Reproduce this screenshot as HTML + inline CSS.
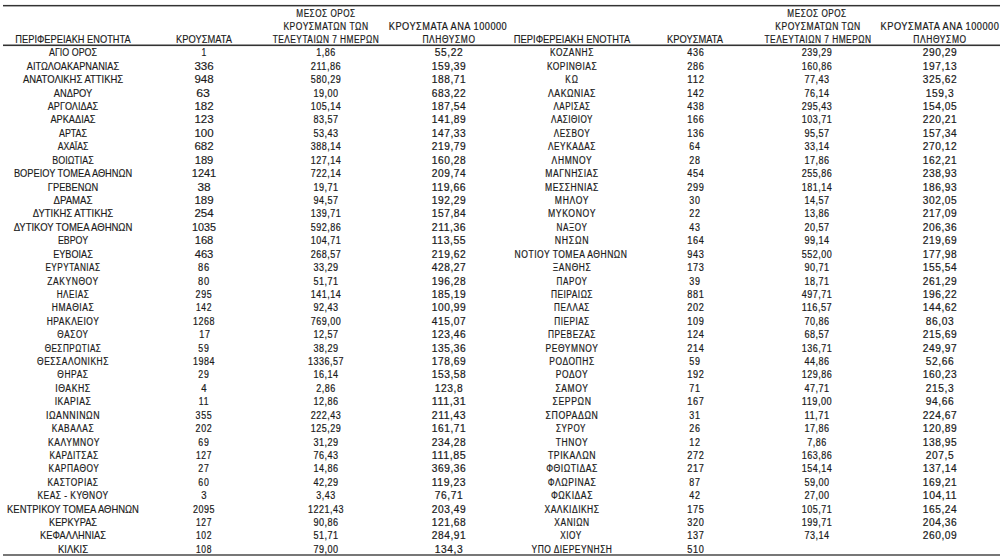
<!DOCTYPE html>
<html><head><meta charset="utf-8"><style>
html,body{margin:0;padding:0;background:#fff;}
body{width:1000px;height:559px;overflow:hidden;position:relative;font-family:"Liberation Sans",sans-serif;color:#1a1a1a;}
#w{position:absolute;left:0;top:0;width:1000px;height:559px;}
.c{position:absolute;width:200px;text-align:center;font-size:10.4px;line-height:12px;white-space:nowrap;transform-origin:100px 50%;}
.ln{position:absolute;left:3px;right:0;}
</style></head><body><div id="w">
<div class="ln" style="top:4px;height:1px;background:#eee"></div>
<div class="ln" style="top:5px;height:1px;background:#333"></div>
<div class="ln" style="top:6px;height:1px;background:#aaa"></div>
<div class="ln" style="top:44px;height:1px;background:#999"></div>
<div class="ln" style="top:45px;height:1px;background:#333"></div>
<div class="ln" style="top:46px;height:1px;background:#eee"></div>
<div class="ln" style="top:554px;height:2px;background:#777"></div>
<div class="c" style="left:-26.80px;top:33.87px;transform:scaleX(0.8914);-webkit-text-stroke:0.15px #1a1a1a">ΠΕΡΙΦΕΡΕΙΑΚΗ ΕΝΟΤΗΤΑ</div>
<div class="c" style="left:103.60px;top:33.87px;transform:scaleX(0.8983);-webkit-text-stroke:0.15px #1a1a1a">ΚΡΟΥΣΜΑΤΑ</div>
<div class="c" style="left:226.26px;top:8.18px;transform:scaleX(0.8156);font-size:10.0px;letter-spacing:0.641px;-webkit-text-stroke:0.2px #1a1a1a">ΜΕΣΟΣ ΟΡΟΣ</div>
<div class="c" style="left:226.16px;top:21.32px;transform:scaleX(0.8483);font-size:10.0px;letter-spacing:0.614px;-webkit-text-stroke:0.2px #1a1a1a">ΚΡΟΥΣΜΑΤΩΝ ΤΩΝ</div>
<div class="c" style="left:226.13px;top:33.88px;transform:scaleX(0.8349);font-size:10.0px;letter-spacing:0.565px;-webkit-text-stroke:0.2px #1a1a1a">ΤΕΛΕΥΤΑΙΩΝ 7 ΗΜΕΡΩΝ</div>
<div class="c" style="left:348.35px;top:21.37px;transform:scaleX(0.9218);font-size:10.0px;letter-spacing:0.539px;-webkit-text-stroke:0.2px #1a1a1a">ΚΡΟΥΣΜΑΤΑ ΑΝΑ 100000</div>
<div class="c" style="left:348.55px;top:33.97px;transform:scaleX(0.8394);font-size:10.0px;letter-spacing:0.715px;-webkit-text-stroke:0.2px #1a1a1a">ΠΛΗΘΥΣΜΟ</div>
<div class="c" style="left:471.80px;top:33.87px;transform:scaleX(0.8991);-webkit-text-stroke:0.15px #1a1a1a">ΠΕΡΙΦΕΡΕΙΑΚΗ ΕΝΟΤΗΤΑ</div>
<div class="c" style="left:594.95px;top:33.87px;transform:scaleX(0.8999);-webkit-text-stroke:0.15px #1a1a1a">ΚΡΟΥΣΜΑΤΑ</div>
<div class="c" style="left:717.39px;top:8.22px;transform:scaleX(0.8149);font-size:10.0px;letter-spacing:0.641px;-webkit-text-stroke:0.2px #1a1a1a">ΜΕΣΟΣ ΟΡΟΣ</div>
<div class="c" style="left:717.51px;top:21.37px;transform:scaleX(0.8523);font-size:10.0px;letter-spacing:0.614px;-webkit-text-stroke:0.2px #1a1a1a">ΚΡΟΥΣΜΑΤΩΝ ΤΩΝ</div>
<div class="c" style="left:717.69px;top:33.97px;transform:scaleX(0.8373);font-size:10.0px;letter-spacing:0.565px;-webkit-text-stroke:0.2px #1a1a1a">ΤΕΛΕΥΤΑΙΩΝ 7 ΗΜΕΡΩΝ</div>
<div class="c" style="left:839.80px;top:21.37px;transform:scaleX(0.9241);font-size:10.0px;letter-spacing:0.539px;-webkit-text-stroke:0.2px #1a1a1a">ΚΡΟΥΣΜΑΤΑ ΑΝΑ 100000</div>
<div class="c" style="left:839.60px;top:33.97px;transform:scaleX(0.8442);font-size:10.0px;letter-spacing:0.715px;-webkit-text-stroke:0.2px #1a1a1a">ΠΛΗΘΥΣΜΟ</div>
<div class="c" style="left:-26.80px;top:47.37px;transform:scaleX(0.8560);-webkit-text-stroke:0.15px #1a1a1a">ΑΓΙΟ ΟΡΟΣ</div>
<div class="c" style="left:103.50px;top:47.37px;transform:scaleX(0.8301);-webkit-text-stroke:0.15px #1a1a1a">1</div>
<div class="c" style="left:226.25px;top:47.38px;transform:scaleX(0.8983);font-size:10.0px;letter-spacing:0.564px;-webkit-text-stroke:0.2px #1a1a1a">1,86</div>
<div class="c" style="left:348.58px;top:47.38px;transform:scaleX(1.0222);font-size:10.0px;letter-spacing:0.544px;-webkit-text-stroke:0.2px #1a1a1a">55,22</div>
<div class="c" style="left:-26.90px;top:60.79px;transform:scaleX(0.8855);-webkit-text-stroke:0.15px #1a1a1a">ΑΙΤΩΛΟΑΚΑΡΝΑΝΙΑΣ</div>
<div class="c" style="left:103.50px;top:60.79px;transform:scaleX(1.1068);-webkit-text-stroke:0.15px #1a1a1a">336</div>
<div class="c" style="left:226.24px;top:60.79px;transform:scaleX(0.9218);font-size:10.0px;letter-spacing:0.519px;-webkit-text-stroke:0.2px #1a1a1a">211,86</div>
<div class="c" style="left:348.57px;top:60.79px;transform:scaleX(1.0195);font-size:10.0px;letter-spacing:0.532px;-webkit-text-stroke:0.2px #1a1a1a">159,39</div>
<div class="c" style="left:-27.05px;top:74.21px;transform:scaleX(0.9090);-webkit-text-stroke:0.15px #1a1a1a">ΑΝΑΤΟΛΙΚΗΣ ΑΤΤΙΚΗΣ</div>
<div class="c" style="left:103.50px;top:74.21px;transform:scaleX(1.1068);-webkit-text-stroke:0.15px #1a1a1a">948</div>
<div class="c" style="left:226.24px;top:74.21px;transform:scaleX(0.8992);font-size:10.0px;letter-spacing:0.532px;-webkit-text-stroke:0.2px #1a1a1a">580,29</div>
<div class="c" style="left:348.57px;top:74.21px;transform:scaleX(1.0195);font-size:10.0px;letter-spacing:0.532px;-webkit-text-stroke:0.2px #1a1a1a">188,71</div>
<div class="c" style="left:-27.40px;top:87.63px;transform:scaleX(0.8972);-webkit-text-stroke:0.15px #1a1a1a">ΑΝΔΡΟΥ</div>
<div class="c" style="left:103.15px;top:87.63px;transform:scaleX(1.1846);-webkit-text-stroke:0.15px #1a1a1a">63</div>
<div class="c" style="left:226.25px;top:87.63px;transform:scaleX(0.9082);font-size:10.0px;letter-spacing:0.544px;-webkit-text-stroke:0.2px #1a1a1a">19,00</div>
<div class="c" style="left:348.57px;top:87.63px;transform:scaleX(1.0195);font-size:10.0px;letter-spacing:0.532px;-webkit-text-stroke:0.2px #1a1a1a">683,22</div>
<div class="c" style="left:-26.80px;top:101.05px;transform:scaleX(0.8743);-webkit-text-stroke:0.15px #1a1a1a">ΑΡΓΟΛΙΔΑΣ</div>
<div class="c" style="left:103.50px;top:101.05px;transform:scaleX(1.1068);-webkit-text-stroke:0.15px #1a1a1a">182</div>
<div class="c" style="left:226.24px;top:101.05px;transform:scaleX(0.8992);font-size:10.0px;letter-spacing:0.532px;-webkit-text-stroke:0.2px #1a1a1a">105,14</div>
<div class="c" style="left:348.57px;top:101.05px;transform:scaleX(1.0195);font-size:10.0px;letter-spacing:0.532px;-webkit-text-stroke:0.2px #1a1a1a">187,54</div>
<div class="c" style="left:-27.05px;top:114.47px;transform:scaleX(0.8852);-webkit-text-stroke:0.15px #1a1a1a">ΑΡΚΑΔΙΑΣ</div>
<div class="c" style="left:103.50px;top:114.47px;transform:scaleX(1.1068);-webkit-text-stroke:0.15px #1a1a1a">123</div>
<div class="c" style="left:226.25px;top:114.47px;transform:scaleX(0.9082);font-size:10.0px;letter-spacing:0.544px;-webkit-text-stroke:0.2px #1a1a1a">83,57</div>
<div class="c" style="left:348.57px;top:114.47px;transform:scaleX(1.0195);font-size:10.0px;letter-spacing:0.532px;-webkit-text-stroke:0.2px #1a1a1a">141,89</div>
<div class="c" style="left:-27.15px;top:127.89px;transform:scaleX(0.8561);-webkit-text-stroke:0.15px #1a1a1a">ΑΡΤΑΣ</div>
<div class="c" style="left:103.50px;top:127.89px;transform:scaleX(1.1068);-webkit-text-stroke:0.15px #1a1a1a">100</div>
<div class="c" style="left:226.25px;top:127.89px;transform:scaleX(0.9082);font-size:10.0px;letter-spacing:0.544px;-webkit-text-stroke:0.2px #1a1a1a">53,43</div>
<div class="c" style="left:348.57px;top:127.89px;transform:scaleX(1.0195);font-size:10.0px;letter-spacing:0.532px;-webkit-text-stroke:0.2px #1a1a1a">147,33</div>
<div class="c" style="left:-27.05px;top:141.31px;transform:scaleX(0.8283);-webkit-text-stroke:0.15px #1a1a1a">ΑΧΑΪΑΣ</div>
<div class="c" style="left:103.50px;top:141.31px;transform:scaleX(1.1068);-webkit-text-stroke:0.15px #1a1a1a">682</div>
<div class="c" style="left:226.24px;top:141.31px;transform:scaleX(0.8992);font-size:10.0px;letter-spacing:0.532px;-webkit-text-stroke:0.2px #1a1a1a">388,14</div>
<div class="c" style="left:348.57px;top:141.31px;transform:scaleX(1.0195);font-size:10.0px;letter-spacing:0.532px;-webkit-text-stroke:0.2px #1a1a1a">219,79</div>
<div class="c" style="left:-27.05px;top:154.73px;transform:scaleX(0.8551);-webkit-text-stroke:0.15px #1a1a1a">ΒΟΙΩΤΙΑΣ</div>
<div class="c" style="left:103.75px;top:154.73px;transform:scaleX(1.0780);-webkit-text-stroke:0.15px #1a1a1a">189</div>
<div class="c" style="left:226.24px;top:154.73px;transform:scaleX(0.8992);font-size:10.0px;letter-spacing:0.532px;-webkit-text-stroke:0.2px #1a1a1a">127,14</div>
<div class="c" style="left:348.57px;top:154.73px;transform:scaleX(1.0195);font-size:10.0px;letter-spacing:0.532px;-webkit-text-stroke:0.2px #1a1a1a">160,28</div>
<div class="c" style="left:-27.15px;top:168.14px;transform:scaleX(0.8919);-webkit-text-stroke:0.15px #1a1a1a">ΒΟΡΕΙΟΥ ΤΟΜΕΑ ΑΘΗΝΩΝ</div>
<div class="c" style="left:103.75px;top:168.14px;transform:scaleX(1.0588);-webkit-text-stroke:0.15px #1a1a1a">1241</div>
<div class="c" style="left:226.24px;top:168.15px;transform:scaleX(0.8992);font-size:10.0px;letter-spacing:0.532px;-webkit-text-stroke:0.2px #1a1a1a">722,14</div>
<div class="c" style="left:348.57px;top:168.15px;transform:scaleX(1.0195);font-size:10.0px;letter-spacing:0.532px;-webkit-text-stroke:0.2px #1a1a1a">209,74</div>
<div class="c" style="left:-27.30px;top:181.56px;transform:scaleX(0.8956);-webkit-text-stroke:0.15px #1a1a1a">ΓΡΕΒΕΝΩΝ</div>
<div class="c" style="left:103.90px;top:181.56px;transform:scaleX(1.1414);-webkit-text-stroke:0.15px #1a1a1a">38</div>
<div class="c" style="left:226.25px;top:181.56px;transform:scaleX(0.9082);font-size:10.0px;letter-spacing:0.544px;-webkit-text-stroke:0.2px #1a1a1a">19,71</div>
<div class="c" style="left:348.57px;top:181.56px;transform:scaleX(1.0452);font-size:10.0px;letter-spacing:0.519px;-webkit-text-stroke:0.2px #1a1a1a">119,66</div>
<div class="c" style="left:-27.15px;top:194.98px;transform:scaleX(0.9292);-webkit-text-stroke:0.15px #1a1a1a">ΔΡΑΜΑΣ</div>
<div class="c" style="left:103.50px;top:194.98px;transform:scaleX(1.1068);-webkit-text-stroke:0.15px #1a1a1a">189</div>
<div class="c" style="left:226.25px;top:194.98px;transform:scaleX(0.9082);font-size:10.0px;letter-spacing:0.544px;-webkit-text-stroke:0.2px #1a1a1a">94,57</div>
<div class="c" style="left:348.57px;top:194.98px;transform:scaleX(1.0195);font-size:10.0px;letter-spacing:0.532px;-webkit-text-stroke:0.2px #1a1a1a">192,29</div>
<div class="c" style="left:-27.40px;top:208.40px;transform:scaleX(0.9118);-webkit-text-stroke:0.15px #1a1a1a">ΔΥΤΙΚΗΣ ΑΤΤΙΚΗΣ</div>
<div class="c" style="left:103.50px;top:208.40px;transform:scaleX(1.1068);-webkit-text-stroke:0.15px #1a1a1a">254</div>
<div class="c" style="left:226.24px;top:208.40px;transform:scaleX(0.8992);font-size:10.0px;letter-spacing:0.532px;-webkit-text-stroke:0.2px #1a1a1a">139,71</div>
<div class="c" style="left:348.57px;top:208.40px;transform:scaleX(1.0195);font-size:10.0px;letter-spacing:0.532px;-webkit-text-stroke:0.2px #1a1a1a">157,84</div>
<div class="c" style="left:-27.40px;top:221.82px;transform:scaleX(0.9151);-webkit-text-stroke:0.15px #1a1a1a">ΔΥΤΙΚΟΥ ΤΟΜΕΑ ΑΘΗΝΩΝ</div>
<div class="c" style="left:104.00px;top:221.82px;transform:scaleX(1.0372);-webkit-text-stroke:0.15px #1a1a1a">1035</div>
<div class="c" style="left:226.24px;top:221.82px;transform:scaleX(0.8992);font-size:10.0px;letter-spacing:0.532px;-webkit-text-stroke:0.2px #1a1a1a">592,86</div>
<div class="c" style="left:348.57px;top:221.82px;transform:scaleX(1.0452);font-size:10.0px;letter-spacing:0.519px;-webkit-text-stroke:0.2px #1a1a1a">211,36</div>
<div class="c" style="left:-26.80px;top:235.24px;transform:scaleX(0.8506);-webkit-text-stroke:0.15px #1a1a1a">ΕΒΡΟΥ</div>
<div class="c" style="left:103.75px;top:235.24px;transform:scaleX(1.0780);-webkit-text-stroke:0.15px #1a1a1a">168</div>
<div class="c" style="left:226.24px;top:235.24px;transform:scaleX(0.8992);font-size:10.0px;letter-spacing:0.532px;-webkit-text-stroke:0.2px #1a1a1a">104,71</div>
<div class="c" style="left:348.57px;top:235.24px;transform:scaleX(1.0452);font-size:10.0px;letter-spacing:0.519px;-webkit-text-stroke:0.2px #1a1a1a">113,55</div>
<div class="c" style="left:-27.40px;top:248.66px;transform:scaleX(0.8769);-webkit-text-stroke:0.15px #1a1a1a">ΕΥΒΟΙΑΣ</div>
<div class="c" style="left:103.75px;top:248.66px;transform:scaleX(1.0780);-webkit-text-stroke:0.15px #1a1a1a">463</div>
<div class="c" style="left:226.24px;top:248.66px;transform:scaleX(0.8992);font-size:10.0px;letter-spacing:0.532px;-webkit-text-stroke:0.2px #1a1a1a">268,57</div>
<div class="c" style="left:348.57px;top:248.66px;transform:scaleX(1.0195);font-size:10.0px;letter-spacing:0.532px;-webkit-text-stroke:0.2px #1a1a1a">219,62</div>
<div class="c" style="left:-26.81px;top:262.08px;transform:scaleX(0.8173);font-size:10.0px;letter-spacing:0.595px;-webkit-text-stroke:0.2px #1a1a1a">ΕΥΡΥΤΑΝΙΑΣ</div>
<div class="c" style="left:104.10px;top:262.08px;transform:scaleX(0.9349);font-size:10.0px;letter-spacing:0.967px;-webkit-text-stroke:0.2px #1a1a1a">86</div>
<div class="c" style="left:226.25px;top:262.08px;transform:scaleX(0.9082);font-size:10.0px;letter-spacing:0.544px;-webkit-text-stroke:0.2px #1a1a1a">33,29</div>
<div class="c" style="left:348.57px;top:262.08px;transform:scaleX(1.0195);font-size:10.0px;letter-spacing:0.532px;-webkit-text-stroke:0.2px #1a1a1a">428,27</div>
<div class="c" style="left:-26.76px;top:275.50px;transform:scaleX(0.8477);font-size:10.0px;letter-spacing:0.686px;-webkit-text-stroke:0.2px #1a1a1a">ΖΑΚΥΝΘΟΥ</div>
<div class="c" style="left:104.10px;top:275.50px;transform:scaleX(0.9349);font-size:10.0px;letter-spacing:0.967px;-webkit-text-stroke:0.2px #1a1a1a">80</div>
<div class="c" style="left:226.25px;top:275.50px;transform:scaleX(0.9082);font-size:10.0px;letter-spacing:0.544px;-webkit-text-stroke:0.2px #1a1a1a">51,71</div>
<div class="c" style="left:348.57px;top:275.50px;transform:scaleX(1.0195);font-size:10.0px;letter-spacing:0.532px;-webkit-text-stroke:0.2px #1a1a1a">196,28</div>
<div class="c" style="left:-26.54px;top:288.92px;transform:scaleX(0.8183);font-size:10.0px;letter-spacing:0.630px;-webkit-text-stroke:0.2px #1a1a1a">ΗΛΕΙΑΣ</div>
<div class="c" style="left:103.97px;top:288.92px;transform:scaleX(0.8880);font-size:10.0px;letter-spacing:0.725px;-webkit-text-stroke:0.2px #1a1a1a">295</div>
<div class="c" style="left:226.24px;top:288.92px;transform:scaleX(0.8992);font-size:10.0px;letter-spacing:0.532px;-webkit-text-stroke:0.2px #1a1a1a">141,14</div>
<div class="c" style="left:348.57px;top:288.92px;transform:scaleX(1.0195);font-size:10.0px;letter-spacing:0.532px;-webkit-text-stroke:0.2px #1a1a1a">185,19</div>
<div class="c" style="left:-26.52px;top:302.34px;transform:scaleX(0.8467);font-size:10.0px;letter-spacing:0.658px;-webkit-text-stroke:0.2px #1a1a1a">ΗΜΑΘΙΑΣ</div>
<div class="c" style="left:104.31px;top:302.34px;transform:scaleX(0.8494);font-size:10.0px;letter-spacing:0.725px;-webkit-text-stroke:0.2px #1a1a1a">142</div>
<div class="c" style="left:226.25px;top:302.34px;transform:scaleX(0.9082);font-size:10.0px;letter-spacing:0.544px;-webkit-text-stroke:0.2px #1a1a1a">92,43</div>
<div class="c" style="left:348.57px;top:302.34px;transform:scaleX(1.0195);font-size:10.0px;letter-spacing:0.532px;-webkit-text-stroke:0.2px #1a1a1a">100,99</div>
<div class="c" style="left:-26.89px;top:315.75px;transform:scaleX(0.8448);font-size:10.0px;letter-spacing:0.617px;-webkit-text-stroke:0.2px #1a1a1a">ΗΡΑΚΛΕΙΟΥ</div>
<div class="c" style="left:104.29px;top:315.75px;transform:scaleX(0.8931);font-size:10.0px;letter-spacing:0.645px;-webkit-text-stroke:0.2px #1a1a1a">1268</div>
<div class="c" style="left:226.24px;top:315.75px;transform:scaleX(0.8992);font-size:10.0px;letter-spacing:0.532px;-webkit-text-stroke:0.2px #1a1a1a">769,00</div>
<div class="c" style="left:348.57px;top:315.75px;transform:scaleX(1.0195);font-size:10.0px;letter-spacing:0.532px;-webkit-text-stroke:0.2px #1a1a1a">415,07</div>
<div class="c" style="left:-26.74px;top:329.17px;transform:scaleX(0.8168);font-size:10.0px;letter-spacing:0.752px;-webkit-text-stroke:0.2px #1a1a1a">ΘΑΣΟΥ</div>
<div class="c" style="left:105.03px;top:329.17px;transform:scaleX(0.8935);font-size:10.0px;letter-spacing:0.967px;-webkit-text-stroke:0.2px #1a1a1a">17</div>
<div class="c" style="left:226.25px;top:329.17px;transform:scaleX(0.9082);font-size:10.0px;letter-spacing:0.544px;-webkit-text-stroke:0.2px #1a1a1a">12,57</div>
<div class="c" style="left:348.57px;top:329.17px;transform:scaleX(1.0195);font-size:10.0px;letter-spacing:0.532px;-webkit-text-stroke:0.2px #1a1a1a">123,46</div>
<div class="c" style="left:-26.55px;top:342.59px;transform:scaleX(0.8112);font-size:10.0px;letter-spacing:0.616px;-webkit-text-stroke:0.2px #1a1a1a">ΘΕΣΠΡΩΤΙΑΣ</div>
<div class="c" style="left:104.43px;top:342.59px;transform:scaleX(0.8770);font-size:10.0px;letter-spacing:0.967px;-webkit-text-stroke:0.2px #1a1a1a">59</div>
<div class="c" style="left:226.25px;top:342.59px;transform:scaleX(0.9082);font-size:10.0px;letter-spacing:0.544px;-webkit-text-stroke:0.2px #1a1a1a">38,29</div>
<div class="c" style="left:348.57px;top:342.59px;transform:scaleX(1.0195);font-size:10.0px;letter-spacing:0.532px;-webkit-text-stroke:0.2px #1a1a1a">135,36</div>
<div class="c" style="left:-26.89px;top:356.01px;transform:scaleX(0.8431);font-size:10.0px;letter-spacing:0.615px;-webkit-text-stroke:0.2px #1a1a1a">ΘΕΣΣΑΛΟΝΙΚΗΣ</div>
<div class="c" style="left:104.29px;top:356.01px;transform:scaleX(0.8931);font-size:10.0px;letter-spacing:0.645px;-webkit-text-stroke:0.2px #1a1a1a">1984</div>
<div class="c" style="left:226.23px;top:356.01px;transform:scaleX(0.8984);font-size:10.0px;letter-spacing:0.524px;-webkit-text-stroke:0.2px #1a1a1a">1336,57</div>
<div class="c" style="left:348.57px;top:356.01px;transform:scaleX(1.0195);font-size:10.0px;letter-spacing:0.532px;-webkit-text-stroke:0.2px #1a1a1a">178,69</div>
<div class="c" style="left:-26.74px;top:369.43px;transform:scaleX(0.8361);font-size:10.0px;letter-spacing:0.734px;-webkit-text-stroke:0.2px #1a1a1a">ΘΗΡΑΣ</div>
<div class="c" style="left:104.43px;top:369.43px;transform:scaleX(0.8770);font-size:10.0px;letter-spacing:0.967px;-webkit-text-stroke:0.2px #1a1a1a">29</div>
<div class="c" style="left:226.25px;top:369.43px;transform:scaleX(0.9082);font-size:10.0px;letter-spacing:0.544px;-webkit-text-stroke:0.2px #1a1a1a">16,14</div>
<div class="c" style="left:348.57px;top:369.43px;transform:scaleX(1.0195);font-size:10.0px;letter-spacing:0.532px;-webkit-text-stroke:0.2px #1a1a1a">153,58</div>
<div class="c" style="left:-26.52px;top:382.85px;transform:scaleX(0.8675);font-size:10.0px;letter-spacing:0.646px;-webkit-text-stroke:0.2px #1a1a1a">ΙΘΑΚΗΣ</div>
<div class="c" style="left:103.75px;top:382.85px;transform:scaleX(0.9532);font-size:10.0px;-webkit-text-stroke:0.2px #1a1a1a">4</div>
<div class="c" style="left:226.25px;top:382.85px;transform:scaleX(0.8983);font-size:10.0px;letter-spacing:0.564px;-webkit-text-stroke:0.2px #1a1a1a">2,86</div>
<div class="c" style="left:348.58px;top:382.85px;transform:scaleX(1.0222);font-size:10.0px;letter-spacing:0.544px;-webkit-text-stroke:0.2px #1a1a1a">123,8</div>
<div class="c" style="left:-26.56px;top:396.27px;transform:scaleX(0.8621);font-size:10.0px;letter-spacing:0.557px;-webkit-text-stroke:0.2px #1a1a1a">ΙΚΑΡΙΑΣ</div>
<div class="c" style="left:104.38px;top:396.27px;transform:scaleX(0.8509);font-size:10.0px;letter-spacing:0.903px;-webkit-text-stroke:0.2px #1a1a1a">11</div>
<div class="c" style="left:226.25px;top:396.27px;transform:scaleX(0.9082);font-size:10.0px;letter-spacing:0.544px;-webkit-text-stroke:0.2px #1a1a1a">12,86</div>
<div class="c" style="left:348.57px;top:396.27px;transform:scaleX(1.0718);font-size:10.0px;letter-spacing:0.506px;-webkit-text-stroke:0.2px #1a1a1a">111,31</div>
<div class="c" style="left:-26.88px;top:409.69px;transform:scaleX(0.8780);font-size:10.0px;letter-spacing:0.609px;-webkit-text-stroke:0.2px #1a1a1a">ΙΩΑΝΝΙΝΩΝ</div>
<div class="c" style="left:103.97px;top:409.69px;transform:scaleX(0.8880);font-size:10.0px;letter-spacing:0.725px;-webkit-text-stroke:0.2px #1a1a1a">355</div>
<div class="c" style="left:226.24px;top:409.69px;transform:scaleX(0.8992);font-size:10.0px;letter-spacing:0.532px;-webkit-text-stroke:0.2px #1a1a1a">222,43</div>
<div class="c" style="left:348.57px;top:409.69px;transform:scaleX(1.0452);font-size:10.0px;letter-spacing:0.519px;-webkit-text-stroke:0.2px #1a1a1a">211,43</div>
<div class="c" style="left:-26.52px;top:423.11px;transform:scaleX(0.8322);font-size:10.0px;letter-spacing:0.670px;-webkit-text-stroke:0.2px #1a1a1a">ΚΑΒΑΛΑΣ</div>
<div class="c" style="left:103.97px;top:423.11px;transform:scaleX(0.8880);font-size:10.0px;letter-spacing:0.725px;-webkit-text-stroke:0.2px #1a1a1a">202</div>
<div class="c" style="left:226.24px;top:423.11px;transform:scaleX(0.8992);font-size:10.0px;letter-spacing:0.532px;-webkit-text-stroke:0.2px #1a1a1a">125,29</div>
<div class="c" style="left:348.57px;top:423.11px;transform:scaleX(1.0195);font-size:10.0px;letter-spacing:0.532px;-webkit-text-stroke:0.2px #1a1a1a">161,71</div>
<div class="c" style="left:-26.51px;top:436.53px;transform:scaleX(0.8500);font-size:10.0px;letter-spacing:0.691px;-webkit-text-stroke:0.2px #1a1a1a">ΚΑΛΥΜΝΟΥ</div>
<div class="c" style="left:104.43px;top:436.53px;transform:scaleX(0.8770);font-size:10.0px;letter-spacing:0.967px;-webkit-text-stroke:0.2px #1a1a1a">69</div>
<div class="c" style="left:226.25px;top:436.53px;transform:scaleX(0.9082);font-size:10.0px;letter-spacing:0.544px;-webkit-text-stroke:0.2px #1a1a1a">31,29</div>
<div class="c" style="left:348.57px;top:436.53px;transform:scaleX(1.0195);font-size:10.0px;letter-spacing:0.532px;-webkit-text-stroke:0.2px #1a1a1a">234,28</div>
<div class="c" style="left:-26.21px;top:449.94px;transform:scaleX(0.8317);font-size:10.0px;letter-spacing:0.586px;-webkit-text-stroke:0.2px #1a1a1a">ΚΑΡΔΙΤΣΑΣ</div>
<div class="c" style="left:104.31px;top:449.94px;transform:scaleX(0.8494);font-size:10.0px;letter-spacing:0.725px;-webkit-text-stroke:0.2px #1a1a1a">127</div>
<div class="c" style="left:226.25px;top:449.94px;transform:scaleX(0.9082);font-size:10.0px;letter-spacing:0.544px;-webkit-text-stroke:0.2px #1a1a1a">76,43</div>
<div class="c" style="left:348.57px;top:449.94px;transform:scaleX(1.0718);font-size:10.0px;letter-spacing:0.506px;-webkit-text-stroke:0.2px #1a1a1a">111,85</div>
<div class="c" style="left:-26.51px;top:463.36px;transform:scaleX(0.8340);font-size:10.0px;letter-spacing:0.691px;-webkit-text-stroke:0.2px #1a1a1a">ΚΑΡΠΑΘΟΥ</div>
<div class="c" style="left:104.43px;top:463.36px;transform:scaleX(0.8770);font-size:10.0px;letter-spacing:0.967px;-webkit-text-stroke:0.2px #1a1a1a">27</div>
<div class="c" style="left:226.25px;top:463.36px;transform:scaleX(0.9082);font-size:10.0px;letter-spacing:0.544px;-webkit-text-stroke:0.2px #1a1a1a">14,86</div>
<div class="c" style="left:348.57px;top:463.36px;transform:scaleX(1.0195);font-size:10.0px;letter-spacing:0.532px;-webkit-text-stroke:0.2px #1a1a1a">369,36</div>
<div class="c" style="left:-26.55px;top:476.78px;transform:scaleX(0.8350);font-size:10.0px;letter-spacing:0.604px;-webkit-text-stroke:0.2px #1a1a1a">ΚΑΣΤΟΡΙΑΣ</div>
<div class="c" style="left:104.43px;top:476.78px;transform:scaleX(0.8770);font-size:10.0px;letter-spacing:0.967px;-webkit-text-stroke:0.2px #1a1a1a">60</div>
<div class="c" style="left:226.25px;top:476.78px;transform:scaleX(0.9082);font-size:10.0px;letter-spacing:0.544px;-webkit-text-stroke:0.2px #1a1a1a">42,29</div>
<div class="c" style="left:348.57px;top:476.78px;transform:scaleX(1.0452);font-size:10.0px;letter-spacing:0.519px;-webkit-text-stroke:0.2px #1a1a1a">119,23</div>
<div class="c" style="left:-26.56px;top:490.20px;transform:scaleX(0.8438);font-size:10.0px;letter-spacing:0.558px;-webkit-text-stroke:0.2px #1a1a1a">ΚΕΑΣ - ΚΥΘΝΟΥ</div>
<div class="c" style="left:103.75px;top:490.20px;transform:scaleX(0.9532);font-size:10.0px;-webkit-text-stroke:0.2px #1a1a1a">3</div>
<div class="c" style="left:226.25px;top:490.20px;transform:scaleX(0.8983);font-size:10.0px;letter-spacing:0.564px;-webkit-text-stroke:0.2px #1a1a1a">3,43</div>
<div class="c" style="left:348.58px;top:490.20px;transform:scaleX(1.0222);font-size:10.0px;letter-spacing:0.544px;-webkit-text-stroke:0.2px #1a1a1a">76,71</div>
<div class="c" style="left:-27.00px;top:503.62px;transform:scaleX(0.9102);-webkit-text-stroke:0.15px #1a1a1a">ΚΕΝΤΡΙΚΟΥ ΤΟΜΕΑ ΑΘΗΝΩΝ</div>
<div class="c" style="left:104.29px;top:503.62px;transform:scaleX(0.8931);font-size:10.0px;letter-spacing:0.645px;-webkit-text-stroke:0.2px #1a1a1a">2095</div>
<div class="c" style="left:226.23px;top:503.62px;transform:scaleX(0.8984);font-size:10.0px;letter-spacing:0.524px;-webkit-text-stroke:0.2px #1a1a1a">1221,43</div>
<div class="c" style="left:348.57px;top:503.62px;transform:scaleX(1.0195);font-size:10.0px;letter-spacing:0.532px;-webkit-text-stroke:0.2px #1a1a1a">203,49</div>
<div class="c" style="left:-26.80px;top:517.04px;transform:scaleX(0.8854);-webkit-text-stroke:0.15px #1a1a1a">ΚΕΡΚΥΡΑΣ</div>
<div class="c" style="left:104.31px;top:517.04px;transform:scaleX(0.8494);font-size:10.0px;letter-spacing:0.725px;-webkit-text-stroke:0.2px #1a1a1a">127</div>
<div class="c" style="left:226.25px;top:517.04px;transform:scaleX(0.9082);font-size:10.0px;letter-spacing:0.544px;-webkit-text-stroke:0.2px #1a1a1a">90,86</div>
<div class="c" style="left:348.57px;top:517.04px;transform:scaleX(1.0195);font-size:10.0px;letter-spacing:0.532px;-webkit-text-stroke:0.2px #1a1a1a">121,68</div>
<div class="c" style="left:-26.80px;top:530.46px;transform:scaleX(0.8895);-webkit-text-stroke:0.15px #1a1a1a">ΚΕΦΑΛΛΗΝΙΑΣ</div>
<div class="c" style="left:104.31px;top:530.46px;transform:scaleX(0.8494);font-size:10.0px;letter-spacing:0.725px;-webkit-text-stroke:0.2px #1a1a1a">102</div>
<div class="c" style="left:226.25px;top:530.46px;transform:scaleX(0.9082);font-size:10.0px;letter-spacing:0.544px;-webkit-text-stroke:0.2px #1a1a1a">51,71</div>
<div class="c" style="left:348.57px;top:530.46px;transform:scaleX(1.0195);font-size:10.0px;letter-spacing:0.532px;-webkit-text-stroke:0.2px #1a1a1a">284,91</div>
<div class="c" style="left:-26.80px;top:543.88px;transform:scaleX(0.9143);-webkit-text-stroke:0.15px #1a1a1a">ΚΙΛΚΙΣ</div>
<div class="c" style="left:104.31px;top:543.88px;transform:scaleX(0.8494);font-size:10.0px;letter-spacing:0.725px;-webkit-text-stroke:0.2px #1a1a1a">108</div>
<div class="c" style="left:226.25px;top:543.88px;transform:scaleX(0.9082);font-size:10.0px;letter-spacing:0.544px;-webkit-text-stroke:0.2px #1a1a1a">79,00</div>
<div class="c" style="left:348.58px;top:543.88px;transform:scaleX(1.0222);font-size:10.0px;letter-spacing:0.544px;-webkit-text-stroke:0.2px #1a1a1a">134,3</div>
<div class="c" style="left:471.79px;top:47.38px;transform:scaleX(0.8360);font-size:10.0px;letter-spacing:0.689px;-webkit-text-stroke:0.2px #1a1a1a">ΚΟΖΑΝΗΣ</div>
<div class="c" style="left:595.53px;top:47.38px;transform:scaleX(0.9156);font-size:10.0px;letter-spacing:0.725px;-webkit-text-stroke:0.2px #1a1a1a">436</div>
<div class="c" style="left:717.44px;top:47.38px;transform:scaleX(0.8992);font-size:10.0px;letter-spacing:0.532px;-webkit-text-stroke:0.2px #1a1a1a">239,29</div>
<div class="c" style="left:839.67px;top:47.38px;transform:scaleX(1.0195);font-size:10.0px;letter-spacing:0.532px;-webkit-text-stroke:0.2px #1a1a1a">290,29</div>
<div class="c" style="left:471.90px;top:60.79px;transform:scaleX(0.8433);font-size:10.0px;letter-spacing:0.589px;-webkit-text-stroke:0.2px #1a1a1a">ΚΟΡΙΝΘΙΑΣ</div>
<div class="c" style="left:595.53px;top:60.79px;transform:scaleX(0.9156);font-size:10.0px;letter-spacing:0.725px;-webkit-text-stroke:0.2px #1a1a1a">286</div>
<div class="c" style="left:717.44px;top:60.79px;transform:scaleX(0.8992);font-size:10.0px;letter-spacing:0.532px;-webkit-text-stroke:0.2px #1a1a1a">160,86</div>
<div class="c" style="left:839.67px;top:60.79px;transform:scaleX(1.0195);font-size:10.0px;letter-spacing:0.532px;-webkit-text-stroke:0.2px #1a1a1a">197,13</div>
<div class="c" style="left:472.16px;top:74.21px;transform:scaleX(0.8257);font-size:10.0px;letter-spacing:1.230px;-webkit-text-stroke:0.2px #1a1a1a">ΚΩ</div>
<div class="c" style="left:595.53px;top:74.21px;transform:scaleX(0.9581);font-size:10.0px;letter-spacing:0.693px;-webkit-text-stroke:0.2px #1a1a1a">112</div>
<div class="c" style="left:717.45px;top:74.21px;transform:scaleX(0.9082);font-size:10.0px;letter-spacing:0.544px;-webkit-text-stroke:0.2px #1a1a1a">77,43</div>
<div class="c" style="left:839.67px;top:74.21px;transform:scaleX(1.0195);font-size:10.0px;letter-spacing:0.532px;-webkit-text-stroke:0.2px #1a1a1a">325,62</div>
<div class="c" style="left:472.02px;top:87.63px;transform:scaleX(0.8679);font-size:10.0px;letter-spacing:0.625px;-webkit-text-stroke:0.2px #1a1a1a">ΛΑΚΩΝΙΑΣ</div>
<div class="c" style="left:595.53px;top:87.63px;transform:scaleX(0.9156);font-size:10.0px;letter-spacing:0.725px;-webkit-text-stroke:0.2px #1a1a1a">142</div>
<div class="c" style="left:717.45px;top:87.63px;transform:scaleX(0.9082);font-size:10.0px;letter-spacing:0.544px;-webkit-text-stroke:0.2px #1a1a1a">76,14</div>
<div class="c" style="left:839.68px;top:87.63px;transform:scaleX(1.0222);font-size:10.0px;letter-spacing:0.544px;-webkit-text-stroke:0.2px #1a1a1a">159,3</div>
<div class="c" style="left:471.90px;top:101.05px;transform:scaleX(0.8072);font-size:10.0px;letter-spacing:0.606px;-webkit-text-stroke:0.2px #1a1a1a">ΛΑΡΙΣΑΣ</div>
<div class="c" style="left:595.53px;top:101.05px;transform:scaleX(0.9156);font-size:10.0px;letter-spacing:0.725px;-webkit-text-stroke:0.2px #1a1a1a">438</div>
<div class="c" style="left:717.44px;top:101.05px;transform:scaleX(0.8992);font-size:10.0px;letter-spacing:0.532px;-webkit-text-stroke:0.2px #1a1a1a">295,43</div>
<div class="c" style="left:839.67px;top:101.05px;transform:scaleX(1.0195);font-size:10.0px;letter-spacing:0.532px;-webkit-text-stroke:0.2px #1a1a1a">154,05</div>
<div class="c" style="left:471.89px;top:114.47px;transform:scaleX(0.8125);font-size:10.0px;letter-spacing:0.584px;-webkit-text-stroke:0.2px #1a1a1a">ΛΑΣΙΘΙΟΥ</div>
<div class="c" style="left:595.53px;top:114.47px;transform:scaleX(0.9156);font-size:10.0px;letter-spacing:0.725px;-webkit-text-stroke:0.2px #1a1a1a">166</div>
<div class="c" style="left:717.44px;top:114.47px;transform:scaleX(0.8992);font-size:10.0px;letter-spacing:0.532px;-webkit-text-stroke:0.2px #1a1a1a">103,71</div>
<div class="c" style="left:839.67px;top:114.47px;transform:scaleX(1.0195);font-size:10.0px;letter-spacing:0.532px;-webkit-text-stroke:0.2px #1a1a1a">220,21</div>
<div class="c" style="left:471.59px;top:127.89px;transform:scaleX(0.8212);font-size:10.0px;letter-spacing:0.701px;-webkit-text-stroke:0.2px #1a1a1a">ΛΕΣΒΟΥ</div>
<div class="c" style="left:595.53px;top:127.89px;transform:scaleX(0.9156);font-size:10.0px;letter-spacing:0.725px;-webkit-text-stroke:0.2px #1a1a1a">136</div>
<div class="c" style="left:717.45px;top:127.89px;transform:scaleX(0.9082);font-size:10.0px;letter-spacing:0.544px;-webkit-text-stroke:0.2px #1a1a1a">95,57</div>
<div class="c" style="left:839.67px;top:127.89px;transform:scaleX(1.0195);font-size:10.0px;letter-spacing:0.532px;-webkit-text-stroke:0.2px #1a1a1a">157,34</div>
<div class="c" style="left:472.02px;top:141.31px;transform:scaleX(0.8262);font-size:10.0px;letter-spacing:0.657px;-webkit-text-stroke:0.2px #1a1a1a">ΛΕΥΚΑΔΑΣ</div>
<div class="c" style="left:595.43px;top:141.31px;transform:scaleX(0.8935);font-size:10.0px;letter-spacing:0.967px;-webkit-text-stroke:0.2px #1a1a1a">64</div>
<div class="c" style="left:717.45px;top:141.31px;transform:scaleX(0.9082);font-size:10.0px;letter-spacing:0.544px;-webkit-text-stroke:0.2px #1a1a1a">33,14</div>
<div class="c" style="left:839.67px;top:141.31px;transform:scaleX(1.0195);font-size:10.0px;letter-spacing:0.532px;-webkit-text-stroke:0.2px #1a1a1a">270,12</div>
<div class="c" style="left:471.97px;top:154.73px;transform:scaleX(0.8465);font-size:10.0px;letter-spacing:0.758px;-webkit-text-stroke:0.2px #1a1a1a">ΛΗΜΝΟΥ</div>
<div class="c" style="left:595.43px;top:154.73px;transform:scaleX(0.8935);font-size:10.0px;letter-spacing:0.967px;-webkit-text-stroke:0.2px #1a1a1a">28</div>
<div class="c" style="left:717.45px;top:154.73px;transform:scaleX(0.9082);font-size:10.0px;letter-spacing:0.544px;-webkit-text-stroke:0.2px #1a1a1a">17,86</div>
<div class="c" style="left:839.67px;top:154.73px;transform:scaleX(1.0195);font-size:10.0px;letter-spacing:0.532px;-webkit-text-stroke:0.2px #1a1a1a">162,21</div>
<div class="c" style="left:472.27px;top:168.15px;transform:scaleX(0.8558);font-size:10.0px;letter-spacing:0.617px;-webkit-text-stroke:0.2px #1a1a1a">ΜΑΓΝΗΣΙΑΣ</div>
<div class="c" style="left:595.53px;top:168.15px;transform:scaleX(0.9156);font-size:10.0px;letter-spacing:0.725px;-webkit-text-stroke:0.2px #1a1a1a">454</div>
<div class="c" style="left:717.44px;top:168.15px;transform:scaleX(0.8992);font-size:10.0px;letter-spacing:0.532px;-webkit-text-stroke:0.2px #1a1a1a">255,86</div>
<div class="c" style="left:839.67px;top:168.15px;transform:scaleX(1.0195);font-size:10.0px;letter-spacing:0.532px;-webkit-text-stroke:0.2px #1a1a1a">238,93</div>
<div class="c" style="left:472.02px;top:181.56px;transform:scaleX(0.8537);font-size:10.0px;letter-spacing:0.624px;-webkit-text-stroke:0.2px #1a1a1a">ΜΕΣΣΗΝΙΑΣ</div>
<div class="c" style="left:595.53px;top:181.56px;transform:scaleX(0.9156);font-size:10.0px;letter-spacing:0.725px;-webkit-text-stroke:0.2px #1a1a1a">299</div>
<div class="c" style="left:717.44px;top:181.56px;transform:scaleX(0.8992);font-size:10.0px;letter-spacing:0.532px;-webkit-text-stroke:0.2px #1a1a1a">181,14</div>
<div class="c" style="left:839.67px;top:181.56px;transform:scaleX(1.0195);font-size:10.0px;letter-spacing:0.532px;-webkit-text-stroke:0.2px #1a1a1a">186,93</div>
<div class="c" style="left:471.83px;top:194.98px;transform:scaleX(0.8551);font-size:10.0px;letter-spacing:0.786px;-webkit-text-stroke:0.2px #1a1a1a">ΜΗΛΟΥ</div>
<div class="c" style="left:595.43px;top:194.98px;transform:scaleX(0.8935);font-size:10.0px;letter-spacing:0.967px;-webkit-text-stroke:0.2px #1a1a1a">30</div>
<div class="c" style="left:717.45px;top:194.98px;transform:scaleX(0.9082);font-size:10.0px;letter-spacing:0.544px;-webkit-text-stroke:0.2px #1a1a1a">14,57</div>
<div class="c" style="left:839.67px;top:194.98px;transform:scaleX(1.0195);font-size:10.0px;letter-spacing:0.532px;-webkit-text-stroke:0.2px #1a1a1a">302,05</div>
<div class="c" style="left:472.07px;top:208.40px;transform:scaleX(0.8655);font-size:10.0px;letter-spacing:0.732px;-webkit-text-stroke:0.2px #1a1a1a">ΜΥΚΟΝΟΥ</div>
<div class="c" style="left:595.43px;top:208.40px;transform:scaleX(0.8935);font-size:10.0px;letter-spacing:0.967px;-webkit-text-stroke:0.2px #1a1a1a">22</div>
<div class="c" style="left:717.45px;top:208.40px;transform:scaleX(0.9082);font-size:10.0px;letter-spacing:0.544px;-webkit-text-stroke:0.2px #1a1a1a">13,86</div>
<div class="c" style="left:839.67px;top:208.40px;transform:scaleX(1.0195);font-size:10.0px;letter-spacing:0.532px;-webkit-text-stroke:0.2px #1a1a1a">217,09</div>
<div class="c" style="left:471.95px;top:221.82px;transform:scaleX(0.8129);font-size:10.0px;letter-spacing:0.750px;-webkit-text-stroke:0.2px #1a1a1a">ΝΑΞΟΥ</div>
<div class="c" style="left:595.43px;top:221.82px;transform:scaleX(0.8935);font-size:10.0px;letter-spacing:0.967px;-webkit-text-stroke:0.2px #1a1a1a">43</div>
<div class="c" style="left:717.45px;top:221.82px;transform:scaleX(0.9082);font-size:10.0px;letter-spacing:0.544px;-webkit-text-stroke:0.2px #1a1a1a">20,57</div>
<div class="c" style="left:839.67px;top:221.82px;transform:scaleX(1.0195);font-size:10.0px;letter-spacing:0.532px;-webkit-text-stroke:0.2px #1a1a1a">206,36</div>
<div class="c" style="left:471.84px;top:235.24px;transform:scaleX(0.8752);font-size:10.0px;letter-spacing:0.768px;-webkit-text-stroke:0.2px #1a1a1a">ΝΗΣΩΝ</div>
<div class="c" style="left:595.53px;top:235.24px;transform:scaleX(0.9156);font-size:10.0px;letter-spacing:0.725px;-webkit-text-stroke:0.2px #1a1a1a">164</div>
<div class="c" style="left:717.45px;top:235.24px;transform:scaleX(0.9082);font-size:10.0px;letter-spacing:0.544px;-webkit-text-stroke:0.2px #1a1a1a">99,14</div>
<div class="c" style="left:839.67px;top:235.24px;transform:scaleX(1.0195);font-size:10.0px;letter-spacing:0.532px;-webkit-text-stroke:0.2px #1a1a1a">219,69</div>
<div class="c" style="left:471.30px;top:248.66px;transform:scaleX(0.8548);font-size:10.0px;letter-spacing:0.584px;-webkit-text-stroke:0.2px #1a1a1a">ΝΟΤΙΟΥ ΤΟΜΕΑ ΑΘΗΝΩΝ</div>
<div class="c" style="left:595.53px;top:248.66px;transform:scaleX(0.9156);font-size:10.0px;letter-spacing:0.725px;-webkit-text-stroke:0.2px #1a1a1a">943</div>
<div class="c" style="left:717.44px;top:248.66px;transform:scaleX(0.8992);font-size:10.0px;letter-spacing:0.532px;-webkit-text-stroke:0.2px #1a1a1a">552,00</div>
<div class="c" style="left:839.67px;top:248.66px;transform:scaleX(1.0195);font-size:10.0px;letter-spacing:0.532px;-webkit-text-stroke:0.2px #1a1a1a">177,98</div>
<div class="c" style="left:472.05px;top:262.08px;transform:scaleX(0.8388);font-size:10.0px;letter-spacing:0.723px;-webkit-text-stroke:0.2px #1a1a1a">ΞΑΝΘΗΣ</div>
<div class="c" style="left:595.53px;top:262.08px;transform:scaleX(0.9156);font-size:10.0px;letter-spacing:0.725px;-webkit-text-stroke:0.2px #1a1a1a">173</div>
<div class="c" style="left:717.45px;top:262.08px;transform:scaleX(0.9082);font-size:10.0px;letter-spacing:0.544px;-webkit-text-stroke:0.2px #1a1a1a">90,71</div>
<div class="c" style="left:839.67px;top:262.08px;transform:scaleX(1.0195);font-size:10.0px;letter-spacing:0.532px;-webkit-text-stroke:0.2px #1a1a1a">155,54</div>
<div class="c" style="left:471.95px;top:275.50px;transform:scaleX(0.8089);font-size:10.0px;letter-spacing:0.754px;-webkit-text-stroke:0.2px #1a1a1a">ΠΑΡΟΥ</div>
<div class="c" style="left:595.43px;top:275.50px;transform:scaleX(0.8935);font-size:10.0px;letter-spacing:0.967px;-webkit-text-stroke:0.2px #1a1a1a">39</div>
<div class="c" style="left:717.45px;top:275.50px;transform:scaleX(0.9082);font-size:10.0px;letter-spacing:0.544px;-webkit-text-stroke:0.2px #1a1a1a">18,71</div>
<div class="c" style="left:839.67px;top:275.50px;transform:scaleX(1.0195);font-size:10.0px;letter-spacing:0.532px;-webkit-text-stroke:0.2px #1a1a1a">261,29</div>
<div class="c" style="left:471.89px;top:288.92px;transform:scaleX(0.8354);font-size:10.0px;letter-spacing:0.568px;-webkit-text-stroke:0.2px #1a1a1a">ΠΕΙΡΑΙΩΣ</div>
<div class="c" style="left:595.53px;top:288.92px;transform:scaleX(0.9156);font-size:10.0px;letter-spacing:0.725px;-webkit-text-stroke:0.2px #1a1a1a">881</div>
<div class="c" style="left:717.44px;top:288.92px;transform:scaleX(0.8992);font-size:10.0px;letter-spacing:0.532px;-webkit-text-stroke:0.2px #1a1a1a">497,71</div>
<div class="c" style="left:839.67px;top:288.92px;transform:scaleX(1.0195);font-size:10.0px;letter-spacing:0.532px;-webkit-text-stroke:0.2px #1a1a1a">196,22</div>
<div class="c" style="left:471.93px;top:302.34px;transform:scaleX(0.8099);font-size:10.0px;letter-spacing:0.697px;-webkit-text-stroke:0.2px #1a1a1a">ΠΕΛΛΑΣ</div>
<div class="c" style="left:595.53px;top:302.34px;transform:scaleX(0.9156);font-size:10.0px;letter-spacing:0.725px;-webkit-text-stroke:0.2px #1a1a1a">202</div>
<div class="c" style="left:717.44px;top:302.34px;transform:scaleX(0.9218);font-size:10.0px;letter-spacing:0.519px;-webkit-text-stroke:0.2px #1a1a1a">116,57</div>
<div class="c" style="left:839.67px;top:302.34px;transform:scaleX(1.0195);font-size:10.0px;letter-spacing:0.532px;-webkit-text-stroke:0.2px #1a1a1a">144,62</div>
<div class="c" style="left:471.63px;top:315.75px;transform:scaleX(0.8216);font-size:10.0px;letter-spacing:0.565px;-webkit-text-stroke:0.2px #1a1a1a">ΠΙΕΡΙΑΣ</div>
<div class="c" style="left:595.53px;top:315.75px;transform:scaleX(0.9156);font-size:10.0px;letter-spacing:0.725px;-webkit-text-stroke:0.2px #1a1a1a">109</div>
<div class="c" style="left:717.45px;top:315.75px;transform:scaleX(0.9082);font-size:10.0px;letter-spacing:0.544px;-webkit-text-stroke:0.2px #1a1a1a">70,86</div>
<div class="c" style="left:839.68px;top:315.75px;transform:scaleX(1.0222);font-size:10.0px;letter-spacing:0.544px;-webkit-text-stroke:0.2px #1a1a1a">86,03</div>
<div class="c" style="left:472.02px;top:329.17px;transform:scaleX(0.8267);font-size:10.0px;letter-spacing:0.657px;-webkit-text-stroke:0.2px #1a1a1a">ΠΡΕΒΕΖΑΣ</div>
<div class="c" style="left:595.53px;top:329.17px;transform:scaleX(0.9156);font-size:10.0px;letter-spacing:0.725px;-webkit-text-stroke:0.2px #1a1a1a">124</div>
<div class="c" style="left:717.45px;top:329.17px;transform:scaleX(0.9082);font-size:10.0px;letter-spacing:0.544px;-webkit-text-stroke:0.2px #1a1a1a">68,57</div>
<div class="c" style="left:839.67px;top:329.17px;transform:scaleX(1.0195);font-size:10.0px;letter-spacing:0.532px;-webkit-text-stroke:0.2px #1a1a1a">215,69</div>
<div class="c" style="left:472.05px;top:342.59px;transform:scaleX(0.8421);font-size:10.0px;letter-spacing:0.710px;-webkit-text-stroke:0.2px #1a1a1a">ΡΕΘΥΜΝΟΥ</div>
<div class="c" style="left:595.53px;top:342.59px;transform:scaleX(0.9156);font-size:10.0px;letter-spacing:0.725px;-webkit-text-stroke:0.2px #1a1a1a">214</div>
<div class="c" style="left:717.44px;top:342.59px;transform:scaleX(0.8992);font-size:10.0px;letter-spacing:0.532px;-webkit-text-stroke:0.2px #1a1a1a">136,71</div>
<div class="c" style="left:839.67px;top:342.59px;transform:scaleX(1.0195);font-size:10.0px;letter-spacing:0.532px;-webkit-text-stroke:0.2px #1a1a1a">249,97</div>
<div class="c" style="left:471.95px;top:356.01px;transform:scaleX(0.8411);font-size:10.0px;letter-spacing:0.712px;-webkit-text-stroke:0.2px #1a1a1a">ΡΟΔΟΠΗΣ</div>
<div class="c" style="left:595.43px;top:356.01px;transform:scaleX(0.8935);font-size:10.0px;letter-spacing:0.967px;-webkit-text-stroke:0.2px #1a1a1a">59</div>
<div class="c" style="left:717.45px;top:356.01px;transform:scaleX(0.9082);font-size:10.0px;letter-spacing:0.544px;-webkit-text-stroke:0.2px #1a1a1a">44,86</div>
<div class="c" style="left:839.68px;top:356.01px;transform:scaleX(1.0222);font-size:10.0px;letter-spacing:0.544px;-webkit-text-stroke:0.2px #1a1a1a">52,66</div>
<div class="c" style="left:471.97px;top:369.43px;transform:scaleX(0.8426);font-size:10.0px;letter-spacing:0.757px;-webkit-text-stroke:0.2px #1a1a1a">ΡΟΔΟΥ</div>
<div class="c" style="left:595.53px;top:369.43px;transform:scaleX(0.9156);font-size:10.0px;letter-spacing:0.725px;-webkit-text-stroke:0.2px #1a1a1a">192</div>
<div class="c" style="left:717.44px;top:369.43px;transform:scaleX(0.8992);font-size:10.0px;letter-spacing:0.532px;-webkit-text-stroke:0.2px #1a1a1a">129,86</div>
<div class="c" style="left:839.67px;top:369.43px;transform:scaleX(1.0195);font-size:10.0px;letter-spacing:0.532px;-webkit-text-stroke:0.2px #1a1a1a">160,23</div>
<div class="c" style="left:471.72px;top:382.85px;transform:scaleX(0.8442);font-size:10.0px;letter-spacing:0.768px;-webkit-text-stroke:0.2px #1a1a1a">ΣΑΜΟΥ</div>
<div class="c" style="left:595.43px;top:382.85px;transform:scaleX(0.8935);font-size:10.0px;letter-spacing:0.967px;-webkit-text-stroke:0.2px #1a1a1a">71</div>
<div class="c" style="left:717.45px;top:382.85px;transform:scaleX(0.9082);font-size:10.0px;letter-spacing:0.544px;-webkit-text-stroke:0.2px #1a1a1a">47,71</div>
<div class="c" style="left:839.68px;top:382.85px;transform:scaleX(1.0222);font-size:10.0px;letter-spacing:0.544px;-webkit-text-stroke:0.2px #1a1a1a">215,3</div>
<div class="c" style="left:471.81px;top:396.27px;transform:scaleX(0.8640);font-size:10.0px;letter-spacing:0.711px;-webkit-text-stroke:0.2px #1a1a1a">ΣΕΡΡΩΝ</div>
<div class="c" style="left:595.53px;top:396.27px;transform:scaleX(0.9156);font-size:10.0px;letter-spacing:0.725px;-webkit-text-stroke:0.2px #1a1a1a">167</div>
<div class="c" style="left:717.44px;top:396.27px;transform:scaleX(0.9218);font-size:10.0px;letter-spacing:0.519px;-webkit-text-stroke:0.2px #1a1a1a">119,00</div>
<div class="c" style="left:839.68px;top:396.27px;transform:scaleX(1.0222);font-size:10.0px;letter-spacing:0.544px;-webkit-text-stroke:0.2px #1a1a1a">94,66</div>
<div class="c" style="left:472.05px;top:409.69px;transform:scaleX(0.8723);font-size:10.0px;letter-spacing:0.685px;-webkit-text-stroke:0.2px #1a1a1a">ΣΠΟΡΑΔΩΝ</div>
<div class="c" style="left:595.43px;top:409.69px;transform:scaleX(0.8935);font-size:10.0px;letter-spacing:0.967px;-webkit-text-stroke:0.2px #1a1a1a">31</div>
<div class="c" style="left:717.45px;top:409.69px;transform:scaleX(0.9359);font-size:10.0px;letter-spacing:0.528px;-webkit-text-stroke:0.2px #1a1a1a">11,71</div>
<div class="c" style="left:839.67px;top:409.69px;transform:scaleX(1.0195);font-size:10.0px;letter-spacing:0.532px;-webkit-text-stroke:0.2px #1a1a1a">224,67</div>
<div class="c" style="left:471.44px;top:423.11px;transform:scaleX(0.8065);font-size:10.0px;letter-spacing:0.732px;-webkit-text-stroke:0.2px #1a1a1a">ΣΥΡΟΥ</div>
<div class="c" style="left:595.43px;top:423.11px;transform:scaleX(0.8935);font-size:10.0px;letter-spacing:0.967px;-webkit-text-stroke:0.2px #1a1a1a">26</div>
<div class="c" style="left:717.45px;top:423.11px;transform:scaleX(0.9082);font-size:10.0px;letter-spacing:0.544px;-webkit-text-stroke:0.2px #1a1a1a">17,86</div>
<div class="c" style="left:839.67px;top:423.11px;transform:scaleX(1.0195);font-size:10.0px;letter-spacing:0.532px;-webkit-text-stroke:0.2px #1a1a1a">120,89</div>
<div class="c" style="left:471.97px;top:436.53px;transform:scaleX(0.8463);font-size:10.0px;letter-spacing:0.754px;-webkit-text-stroke:0.2px #1a1a1a">ΤΗΝΟΥ</div>
<div class="c" style="left:595.43px;top:436.53px;transform:scaleX(0.8935);font-size:10.0px;letter-spacing:0.967px;-webkit-text-stroke:0.2px #1a1a1a">12</div>
<div class="c" style="left:717.45px;top:436.53px;transform:scaleX(0.8983);font-size:10.0px;letter-spacing:0.564px;-webkit-text-stroke:0.2px #1a1a1a">7,86</div>
<div class="c" style="left:839.67px;top:436.53px;transform:scaleX(1.0195);font-size:10.0px;letter-spacing:0.532px;-webkit-text-stroke:0.2px #1a1a1a">138,95</div>
<div class="c" style="left:472.02px;top:449.94px;transform:scaleX(0.8693);font-size:10.0px;letter-spacing:0.624px;-webkit-text-stroke:0.2px #1a1a1a">ΤΡΙΚΑΛΩΝ</div>
<div class="c" style="left:595.53px;top:449.94px;transform:scaleX(0.9156);font-size:10.0px;letter-spacing:0.725px;-webkit-text-stroke:0.2px #1a1a1a">272</div>
<div class="c" style="left:717.44px;top:449.94px;transform:scaleX(0.8992);font-size:10.0px;letter-spacing:0.532px;-webkit-text-stroke:0.2px #1a1a1a">163,86</div>
<div class="c" style="left:839.68px;top:449.94px;transform:scaleX(1.0222);font-size:10.0px;letter-spacing:0.544px;-webkit-text-stroke:0.2px #1a1a1a">207,5</div>
<div class="c" style="left:471.91px;top:463.36px;transform:scaleX(0.8637);font-size:10.0px;letter-spacing:0.592px;-webkit-text-stroke:0.2px #1a1a1a">ΦΘΙΩΤΙΔΑΣ</div>
<div class="c" style="left:595.53px;top:463.36px;transform:scaleX(0.9156);font-size:10.0px;letter-spacing:0.725px;-webkit-text-stroke:0.2px #1a1a1a">217</div>
<div class="c" style="left:717.44px;top:463.36px;transform:scaleX(0.8992);font-size:10.0px;letter-spacing:0.532px;-webkit-text-stroke:0.2px #1a1a1a">154,14</div>
<div class="c" style="left:839.67px;top:463.36px;transform:scaleX(1.0195);font-size:10.0px;letter-spacing:0.532px;-webkit-text-stroke:0.2px #1a1a1a">137,14</div>
<div class="c" style="left:471.77px;top:476.78px;transform:scaleX(0.8548);font-size:10.0px;letter-spacing:0.642px;-webkit-text-stroke:0.2px #1a1a1a">ΦΛΩΡΙΝΑΣ</div>
<div class="c" style="left:595.43px;top:476.78px;transform:scaleX(0.8935);font-size:10.0px;letter-spacing:0.967px;-webkit-text-stroke:0.2px #1a1a1a">87</div>
<div class="c" style="left:717.45px;top:476.78px;transform:scaleX(0.9082);font-size:10.0px;letter-spacing:0.544px;-webkit-text-stroke:0.2px #1a1a1a">59,00</div>
<div class="c" style="left:839.67px;top:476.78px;transform:scaleX(1.0195);font-size:10.0px;letter-spacing:0.532px;-webkit-text-stroke:0.2px #1a1a1a">169,21</div>
<div class="c" style="left:471.93px;top:490.20px;transform:scaleX(0.8593);font-size:10.0px;letter-spacing:0.644px;-webkit-text-stroke:0.2px #1a1a1a">ΦΩΚΙΔΑΣ</div>
<div class="c" style="left:595.43px;top:490.20px;transform:scaleX(0.8935);font-size:10.0px;letter-spacing:0.967px;-webkit-text-stroke:0.2px #1a1a1a">42</div>
<div class="c" style="left:717.45px;top:490.20px;transform:scaleX(0.9082);font-size:10.0px;letter-spacing:0.544px;-webkit-text-stroke:0.2px #1a1a1a">27,00</div>
<div class="c" style="left:839.67px;top:490.20px;transform:scaleX(1.0452);font-size:10.0px;letter-spacing:0.519px;-webkit-text-stroke:0.2px #1a1a1a">104,11</div>
<div class="c" style="left:471.89px;top:503.62px;transform:scaleX(0.8498);font-size:10.0px;letter-spacing:0.570px;-webkit-text-stroke:0.2px #1a1a1a">ΧΑΛΚΙΔΙΚΗΣ</div>
<div class="c" style="left:595.53px;top:503.62px;transform:scaleX(0.9156);font-size:10.0px;letter-spacing:0.725px;-webkit-text-stroke:0.2px #1a1a1a">175</div>
<div class="c" style="left:717.44px;top:503.62px;transform:scaleX(0.8992);font-size:10.0px;letter-spacing:0.532px;-webkit-text-stroke:0.2px #1a1a1a">105,71</div>
<div class="c" style="left:839.67px;top:503.62px;transform:scaleX(1.0195);font-size:10.0px;letter-spacing:0.532px;-webkit-text-stroke:0.2px #1a1a1a">165,24</div>
<div class="c" style="left:471.68px;top:517.04px;transform:scaleX(0.8416);font-size:10.0px;letter-spacing:0.662px;-webkit-text-stroke:0.2px #1a1a1a">ΧΑΝΙΩΝ</div>
<div class="c" style="left:595.53px;top:517.04px;transform:scaleX(0.9156);font-size:10.0px;letter-spacing:0.725px;-webkit-text-stroke:0.2px #1a1a1a">320</div>
<div class="c" style="left:717.44px;top:517.04px;transform:scaleX(0.8992);font-size:10.0px;letter-spacing:0.532px;-webkit-text-stroke:0.2px #1a1a1a">199,71</div>
<div class="c" style="left:839.67px;top:517.04px;transform:scaleX(1.0195);font-size:10.0px;letter-spacing:0.532px;-webkit-text-stroke:0.2px #1a1a1a">204,36</div>
<div class="c" style="left:471.33px;top:530.46px;transform:scaleX(0.8236);font-size:10.0px;letter-spacing:0.683px;-webkit-text-stroke:0.2px #1a1a1a">ΧΙΟΥ</div>
<div class="c" style="left:595.53px;top:530.46px;transform:scaleX(0.9156);font-size:10.0px;letter-spacing:0.725px;-webkit-text-stroke:0.2px #1a1a1a">137</div>
<div class="c" style="left:717.45px;top:530.46px;transform:scaleX(0.9082);font-size:10.0px;letter-spacing:0.544px;-webkit-text-stroke:0.2px #1a1a1a">73,14</div>
<div class="c" style="left:839.67px;top:530.46px;transform:scaleX(1.0195);font-size:10.0px;letter-spacing:0.532px;-webkit-text-stroke:0.2px #1a1a1a">260,09</div>
<div class="c" style="left:471.65px;top:543.88px;transform:scaleX(0.8417);font-size:10.0px;letter-spacing:0.588px;-webkit-text-stroke:0.2px #1a1a1a">ΥΠΟ ΔΙΕΡΕΥΝΗΣΗ</div>
<div class="c" style="left:595.53px;top:543.88px;transform:scaleX(0.9156);font-size:10.0px;letter-spacing:0.725px;-webkit-text-stroke:0.2px #1a1a1a">510</div>
</div></body></html>
